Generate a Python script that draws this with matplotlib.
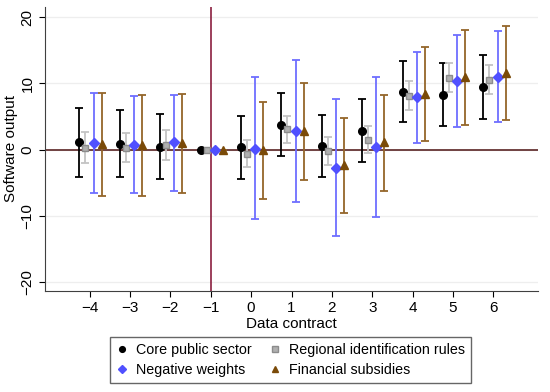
import matplotlib.pyplot as plt
import numpy as np

plt.rcParams['font.family'] = ['Liberation Sans', 'DejaVu Sans']

# --- Data ---
periods = [-4, -3, -2, -1, 0, 1, 2, 3, 4, 5, 6]

core_est = [1.1, 0.9, 0.4, 0.0, 0.4, 3.75, 0.5, 2.8, 8.7, 8.2, 9.4]
core_lo = [-4.1, -4.1, -4.5, 0.0, -4.4, -0.9, -4.1, -1.9, 4.1, 3.5, 4.6]
core_hi = [6.3, 6.0, 5.4, 0.0, 5.1, 8.6, 5.2, 7.6, 13.4, 13.0, 14.2]

region_est = [0.25, 0.3, 0.65, 0.0, -0.6, 3.05, -0.25, 1.5, 8.1, 10.8, 10.5]
region_lo = [-2.0, -1.9, -1.5, 0.0, -2.6, 1.0, -2.3, -0.5, 6.0, 8.7, 8.4]
region_hi = [2.6, 2.5, 2.9, 0.0, 1.5, 5.1, 1.9, 3.5, 10.3, 13.0, 12.8]

negw_est = [1.0, 0.75, 1.1, 0.0, 0.15, 2.85, -2.8, 0.4, 7.9, 10.4, 11.0]
negw_lo = [-6.5, -6.5, -6.2, 0.0, -10.5, -7.9, -13.1, -10.1, 1.0, 3.4, 4.2]
negw_hi = [8.5, 8.1, 8.3, 0.0, 11.0, 13.5, 7.6, 10.9, 14.7, 17.3, 17.9]

fin_est = [0.8, 0.7, 1.0, 0.0, -0.1, 2.75, -2.3, 1.1, 8.4, 11.0, 11.6]
fin_lo = [-7.0, -7.0, -6.5, 0.0, -7.4, -4.6, -9.5, -6.2, 1.3, 3.7, 4.4]
fin_hi = [8.6, 8.3, 8.4, 0.0, 7.2, 10.0, 4.8, 8.3, 15.5, 18.1, 18.6]

series = [
    ('Core public sector', core_est, core_lo, core_hi, -0.25, 'o', 'black', 'black', 'black', 5.5),
    ('Regional identification rules', region_est, region_lo, region_hi, -0.1, 's', '#b0b0b0', '#8c8c8c', '#c4c4c4', 5),
    ('Negative weights', negw_est, negw_lo, negw_hi, 0.1, 'D', '#5050ff', '#5050ff', '#6e6eff', 5),
    ('Financial subsidies', fin_est, fin_lo, fin_hi, 0.3, '^', '#7a4a08', '#7a4a08', '#94662a', 5.5),
]

fig = plt.figure(figsize=(5.5, 3.92), dpi=100)
ax = fig.add_axes([0.082, 0.258, 0.896, 0.724])

x = np.array(periods, dtype=float)
handles = []
for label, est, lo, hi, off, mk, fc, ec, barc, ms in series:
    est = np.array(est)
    err = np.vstack([est - np.array(lo), np.array(hi) - est])
    ax.errorbar(x + off, est, yerr=err, fmt='none', ecolor=barc, elinewidth=1.3,
                capsize=3, capthick=1.3, zorder=2)
    h = ax.plot(x + off, est, linestyle='none', marker=mk, markersize=ms,
                markerfacecolor=fc, markeredgecolor=ec, label=label, zorder=3)[0]
    handles.append(h)

ax.axhline(0, color='#5a2424', linewidth=1.2, zorder=1)
ax.axvline(-1, color='#8b1f3f', linewidth=1.2, zorder=1)

ax.set_xlim(-5.1, 7.1)
ax.set_ylim(-21.3, 21.5)
ax.set_xticks(periods)
ax.set_yticks([-20, -10, 0, 10, 20])
ax.tick_params(axis='y', labelrotation=90, labelsize=11, length=4)
ax.tick_params(axis='x', labelsize=11, length=4)
for lab in ax.get_yticklabels():
    lab.set_va('center')
ax.grid(axis='y', color='#eeeeee', linewidth=0.9)
ax.set_axisbelow(True)
for s in ['top', 'right']:
    ax.spines[s].set_visible(False)
ax.spines['left'].set_color('#404040')
ax.spines['bottom'].set_color('#404040')

ax.set_xlabel('Data contract', fontsize=11, labelpad=1)
ax.set_ylabel('Software output', fontsize=11, labelpad=2)

# legend fills column-wise: put rows as core/regional, negative/financial
order = [0, 2, 1, 3]
leg = fig.legend([handles[i] for i in order],
                 [series[i][0] for i in order],
                 ncol=2, loc='lower center', bbox_to_anchor=(0.528, 0.023),
                 borderaxespad=0, fontsize=10.3, frameon=True, fancybox=False,
                 edgecolor='#404040', handlelength=0.8, handletextpad=0.6,
                 markerscale=0.75, borderpad=0.4, labelspacing=0.45,
                 columnspacing=1.2)
leg.get_frame().set_linewidth(1.0)

fig.savefig('out.png', dpi=100)
